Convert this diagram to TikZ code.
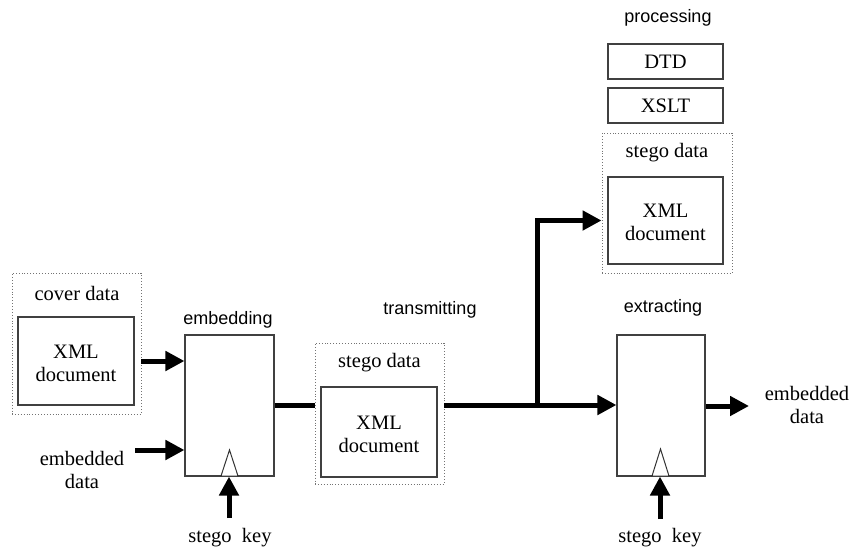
\documentclass[tikz,border=0pt]{standalone}
\usepackage{fontspec}
\setmainfont{Liberation Serif}
\newfontfamily\headfont{Liberation Sans}
\usetikzlibrary{arrows.meta}
\tikzset{
  solidbox/.style={draw=black!75, line width=1.1pt, inner sep=0pt, fill=white},
  dotbox/.style={draw=black!55, dotted, line width=0.9pt, inner sep=0pt},
  serif/.style={font=\fontsize{20.5}{23}\selectfont, align=center},
  head/.style={font=\headfont\fontsize{18}{21}\selectfont},
  flow/.style={line width=5pt},
  flowarrow/.style={line width=5pt, -{Triangle[length=19pt,width=19pt]}},
  keytri/.style={draw=black!80, line width=1pt, fill=white},
}
\begin{document}
\begin{tikzpicture}[x=1pt,y=-1pt]
\useasboundingbox (0,0) rectangle (852,551);

% cover data
\node[dotbox, minimum width=129pt, minimum height=141pt] (cover) at (76.5,343.5) {};
\node[serif] (coverlbl) at (77,293) {cover data};
\node[solidbox, minimum width=116pt, minimum height=88pt] (coverdoc) at (76,361) {};
\node[serif] (covertxt) at (76,363) {XML\\document};

% embedding block
\node[solidbox, minimum width=89pt, minimum height=141pt] (emb) at (229.5,405.5) {};
\node[head] (emblbl) at (228,320) {embedding};
\node[serif] (edin) at (82,470) {embedded\\data};
\coordinate (edstart) at (135,450);
\coordinate (key1) at (229,518);
\node[serif] (key1lbl) at (230,538) {stego\ \ key};

% transmitting
\node[head] (translbl) at (430,310) {transmitting};
\node[dotbox, minimum width=129pt, minimum height=141pt] (tstego) at (379.5,413.5) {};
\node[serif] (tstegolbl) at (379.5,363) {stego data};
\node[solidbox, minimum width=116pt, minimum height=90pt] (tdoc) at (379,432) {};
\node[serif] (tdoctxt) at (379,434) {XML\\document};

% processing
\node[head] (proclbl) at (668,18) {processing};
\node[solidbox, minimum width=115pt, minimum height=35pt] (dtd) at (665.5,61.5) {};
\node[serif] (dtdtxt) at (665.5,62) {DTD};
\node[solidbox, minimum width=115pt, minimum height=35pt] (xslt) at (665.5,105.5) {};
\node[serif] (xslttxt) at (665.5,106) {XSLT};
\node[dotbox, minimum width=130pt, minimum height=140pt] (pstego) at (667,203) {};
\node[serif] (pstegolbl) at (667,153) {stego data};
\node[solidbox, minimum width=115pt, minimum height=87pt] (pdoc) at (665.5,220.5) {};
\node[serif] (pdoctxt) at (665.5,222) {XML\\document};

% extracting block
\node[head] (extlbl) at (663,308) {extracting};
\node[solidbox, minimum width=88pt, minimum height=141pt] (ext) at (661,405.5) {};
\coordinate (outend) at (749,406);
\node[serif] (edout) at (807,405) {embedded\\data};
\coordinate (key2) at (660,519);
\node[serif] (key2lbl) at (660,538) {stego\ \ key};
\coordinate (br) at (537,405);

% key inputs (triangles)
\draw[keytri] (221,476) -- (229.5,450) -- (238,476) -- cycle;
\draw[keytri] (652,476) -- (660.5,449) -- (669,476) -- cycle;

% connectors
\draw[flowarrow] (cover.east |- coverdoc) -- (emb.west |- coverdoc);
\draw[flowarrow] (edstart) -- (emb.west |- edstart);
\draw[flowarrow] (key1) -- (key1 |- emb.south);
\draw[flow] (emb.east) -- (tstego.west |- emb.east);
\draw[flowarrow] (tstego.east |- br) -- (ext.west |- br);
\draw[flowarrow] (br) |- (pstego.west |- pdoc);
\draw[flowarrow] (ext.east |- outend) -- (outend);
\draw[flowarrow] (key2) -- (key2 |- ext.south);
\end{tikzpicture}
\end{document}
